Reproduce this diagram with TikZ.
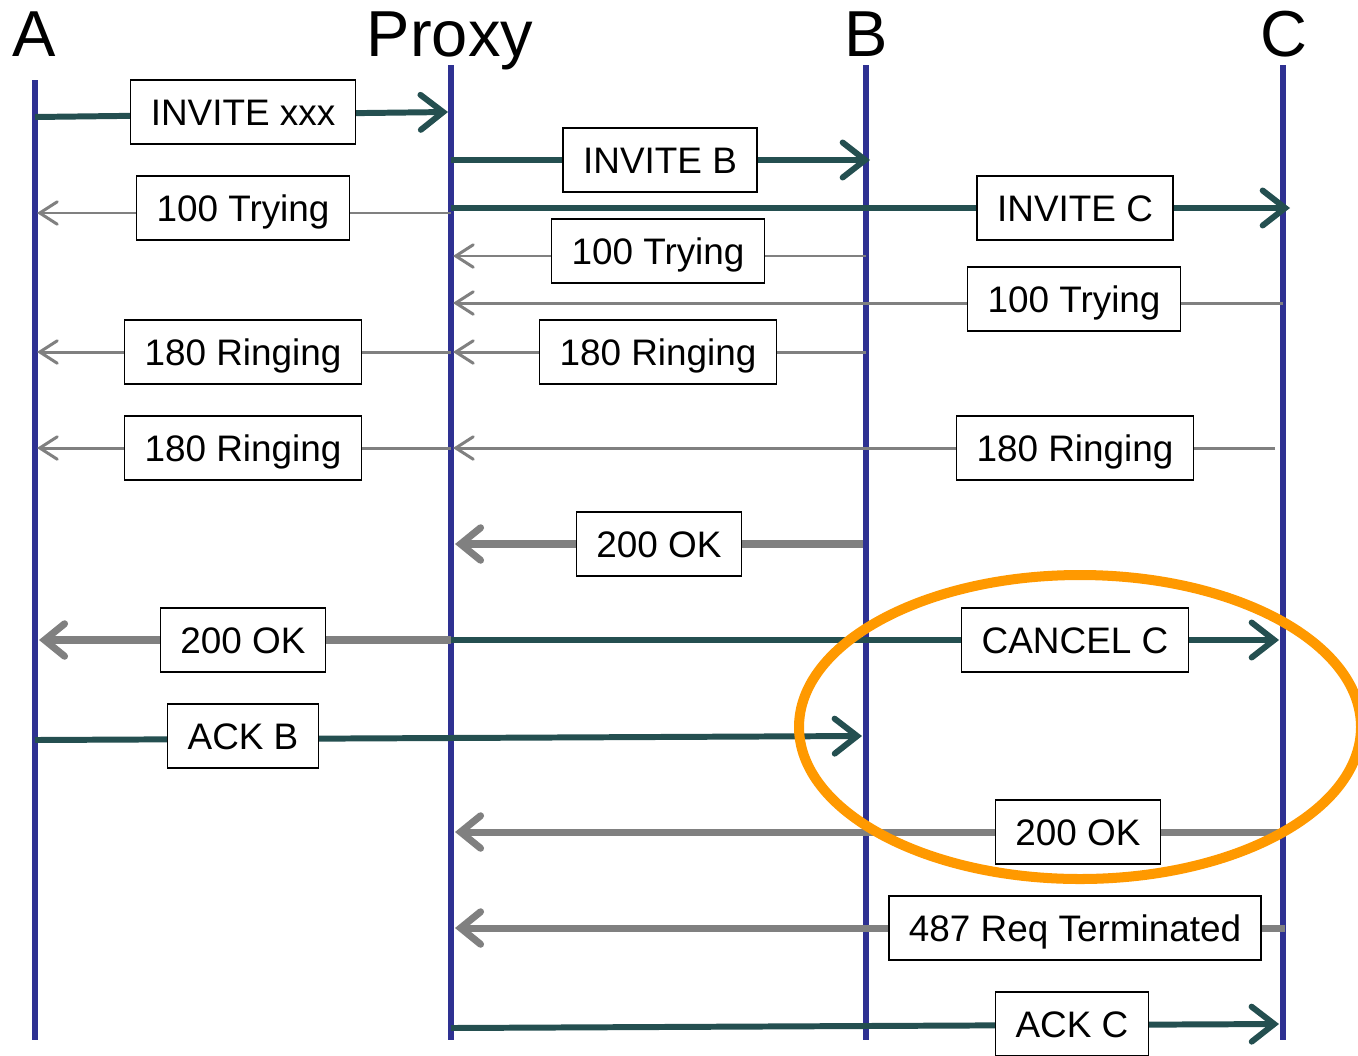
\documentclass[tikz,border=0pt]{standalone}
\usepackage{fontspec}
\setmainfont{Liberation Sans}
\usetikzlibrary{arrows.meta}
\definecolor{lifeblue}{RGB}{46,49,146}
\definecolor{reqteal}{RGB}{36,79,80}
\definecolor{rspgrey}{RGB}{128,128,128}
\definecolor{markorange}{RGB}{255,153,0}
\begin{document}
\begin{tikzpicture}[x=0.02cm, y=-0.02cm,
    party/.style={font=\fontsize{37}{40}\selectfont, inner sep=0pt, anchor=base},
    life/.style={draw=lifeblue, line width=3.4pt},
    msg/.style={draw=black, fill=white, line width=0.8pt, font=\fontsize{21}{24}\selectfont, inner xsep=0.4cm, text height=15pt, text depth=0pt, minimum height=1.28cm},
    req/.style={draw=reqteal, line width=3.4pt, -{Straight Barb[length=0.45cm, width=0.7cm, line cap=round]}},
    rsp/.style={draw=rspgrey, line width=1.7pt, -{Straight Barb[length=0.35cm, width=0.45cm, line cap=round]}},
    fin/.style={draw=rspgrey, line width=4pt, -{Straight Barb[length=0.4cm, width=0.65cm, line cap=round]}}]
    \useasboundingbox (0,0) rectangle (1358,1055);
    % parties
    \node[party] (A) at (34,56) {A};
    \node[party] (P) at (450,56) {Proxy};
    \node[party] (B) at (866,56) {B};
    \node[party] (C) at (1284,56) {C};
    \coordinate (a0) at (35,80);   \coordinate (a9) at (35,1040);
    \coordinate (p0) at (451,65);  \coordinate (p9) at (451,1040);
    \coordinate (b0) at (866,65);  \coordinate (b9) at (866,1040);
    \coordinate (c0) at (1283,65); \coordinate (c9) at (1283,1040);
    \draw[life] (a0) -- (a9);
    \draw[life] (p0) -- (p9);
    \draw[life] (b0) -- (b9);
    \draw[life] (c0) -- (c9);
    % points on the lifelines
    \coordinate (a1) at (35,117);   \coordinate (p1) at (448,112);
    \coordinate (p2) at (451,160);  \coordinate (b2) at (870,160);
    \coordinate (p3) at (451,208);  \coordinate (c3) at (1290,208);
    \coordinate (p4) at (451,213);  \coordinate (a4) at (37,213);
    \coordinate (b5) at (866,256);  \coordinate (p5) at (453,256);
    \coordinate (c6) at (1283,303); \coordinate (p6) at (453,303);
    \coordinate (p7) at (451,352);  \coordinate (a7) at (37,352);
    \coordinate (b8) at (866,352);  \coordinate (q8) at (453,352);
    \coordinate (c9x) at (1275,448); \coordinate (p9x) at (453,448);
    \coordinate (p10) at (451,448); \coordinate (a10) at (37,448);
    \coordinate (b11) at (863,544); \coordinate (p11) at (455,544);
    \coordinate (p12) at (451,640); \coordinate (a12) at (39,640);
    \coordinate (q13) at (451,640); \coordinate (c13) at (1279,640);
    \coordinate (a14) at (35,740);  \coordinate (b14) at (862,736);
    \coordinate (c15) at (1283,832); \coordinate (p15) at (455,832);
    \coordinate (c16) at (1285,928); \coordinate (p16) at (455,928);
    \coordinate (p17) at (451,1028); \coordinate (c17) at (1279,1024);
    % messages
    \draw[req] (a1) -- (p1);
    \draw[req] (p2) -- (b2);
    \draw[req] (p3) -- (c3);
    \draw[rsp] (p4) -- (a4);
    \draw[rsp] (b5) -- (p5);
    \draw[rsp] (c6) -- (p6);
    \draw[rsp] (p7) -- (a7);
    \draw[rsp] (b8) -- (q8);
    \draw[rsp] (c9x) -- (p9x);
    \draw[rsp] (p10) -- (a10);
    \draw[fin] (b11) -- (p11);
    \draw[fin] (p12) -- (a12);
    \draw[req] (q13) -- (c13);
    \draw[req] (a14) -- (b14);
    \draw[fin] (c15) -- (p15);
    \draw[fin] (c16) -- (p16);
    \draw[req] (p17) -- (c17);
    % labels
    \node[msg] (m1) at (243,112) {INVITE xxx};
    \node[msg] (m2) at (660,160) {INVITE B};
    \node[msg] (m3) at (1075,208) {INVITE C};
    \node[msg] (m4) at (243,208) {100 Trying};
    \node[msg] (m5) at (658,251) {100 Trying};
    \node[msg] (m6) at (1074,299) {100 Trying};
    \node[msg] (m7) at (243,352) {180 Ringing};
    \node[msg] (m8) at (658,352) {180 Ringing};
    \node[msg] (m9) at (1075,448) {180 Ringing};
    \node[msg] (m10) at (243,448) {180 Ringing};
    \node[msg] (m11) at (659,544) {200 OK};
    \node[msg] (m12) at (243,640) {200 OK};
    \node[msg] (m13) at (1075,640) {CANCEL C};
    \node[msg] (m14) at (243,736) {ACK B};
    \node[msg] (m15) at (1078,832) {200 OK};
    \node[msg] (m16) at (1075,928) {487 Req Terminated};
    \node[msg] (m17) at (1072,1024) {ACK C};
    % highlight
    \draw[markorange, line width=5.7pt] (1080,727) ellipse [x radius=281, y radius=152];
\end{tikzpicture}
\end{document}
